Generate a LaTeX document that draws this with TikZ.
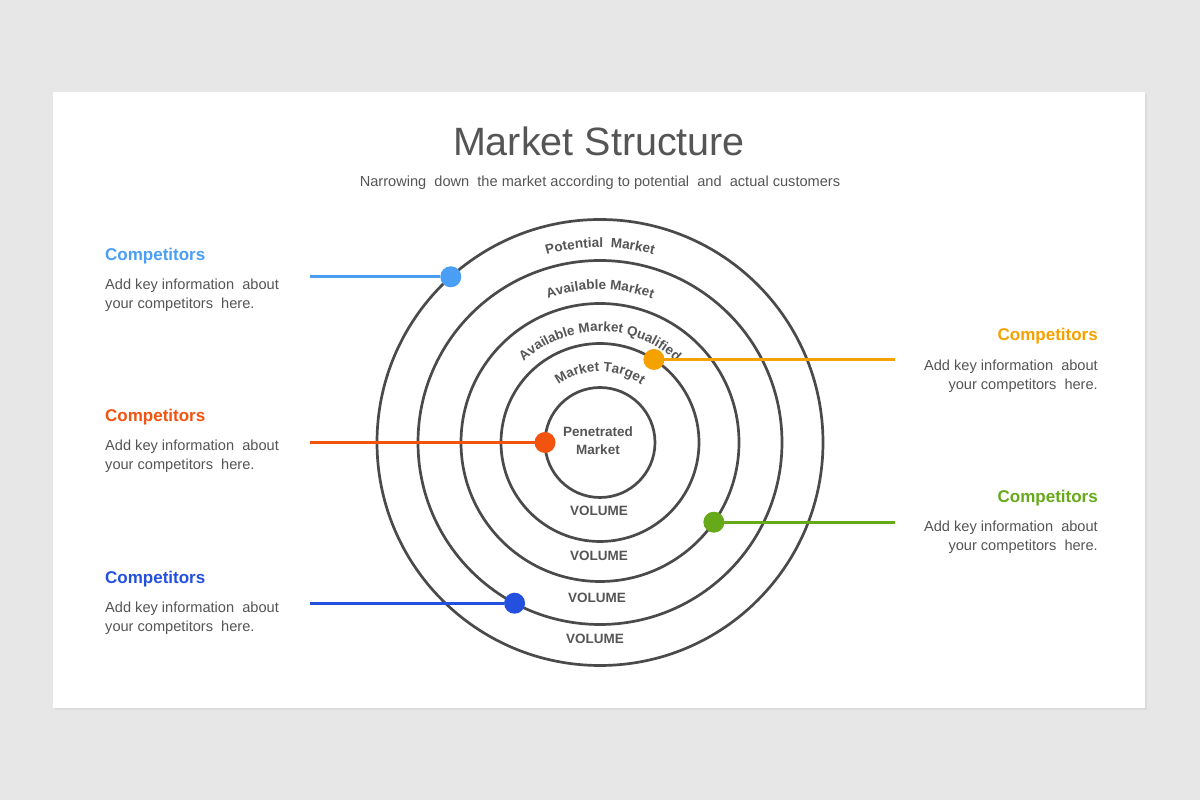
\documentclass[tikz,border=0pt]{standalone}
\usepackage{fontspec}
\setmainfont{Liberation Sans}
\usetikzlibrary{decorations.text,calc}
\definecolor{bg}{HTML}{E8E7E8}
\definecolor{shadowc}{HTML}{DCDBDC}
\definecolor{ink}{HTML}{555555}
\definecolor{ringc}{HTML}{4A4A4A}
\definecolor{cLB}{HTML}{4A9FF5}
\definecolor{cOR}{HTML}{F5A200}
\definecolor{cRD}{HTML}{F2540F}
\definecolor{cGR}{HTML}{66AA1A}
\definecolor{cBL}{HTML}{2450E0}
\newcommand{\curvefont}{\fontsize{13.5}{15}\selectfont\bfseries\color{ink}}
\begin{document}
\begin{tikzpicture}[x=1pt,y=1pt,
 ring/.style={circle, draw=ringc, line width=2.7pt, outer sep=0pt, inner sep=0pt, minimum size=#1},
 dot/.style={circle, fill=#1, minimum size=21pt, inner sep=0pt, outer sep=0pt},
 conn/.style={line width=3pt, draw=#1},
 ttl/.style={font=\fontsize{17}{20}\selectfont\bfseries, text=#1, inner sep=0pt},
 body/.style={font=\fontsize{14.6}{18.5}\selectfont, text=ink, inner sep=0pt},
 vol/.style={font=\fontsize{13.5}{16}\selectfont\bfseries, text=ink, inner sep=0pt},
 curved/.style={decorate, decoration={text along path, text align=center, text={|\curvefont|#1}}},
]
% background and slide
\fill[bg] (0,0) rectangle (1200,800);
\useasboundingbox (0,0) rectangle (1200,800);
\fill[shadowc] (55,90) rectangle (1147,706);
\fill[white] (53,92) rectangle (1145,708);

% title
\node[font=\fontsize{39.5}{46}\selectfont, text=ink, inner sep=0pt] (title) at (599,659) {Market Structure};
\node[font=\fontsize{14.6}{17}\selectfont, text=ink, inner sep=0pt] (sub) at (600,617)
 {Narrowing~ down~ the market according to potential~ and~ actual customers};

% rings
\coordinate (O) at (600,357.5);
\node[ring=446pt] (c1) at (O) {};
\node[ring=364pt] (c2) at (O) {};
\node[ring=278pt] (c3) at (O) {};
\node[ring=198pt] (c4) at (O) {};
\node[ring=110pt] (c5) at (O) {};

% curved labels
\path[curved={Potential~ Market}] ($(O)+(160:195)$) arc[start angle=160, end angle=20, radius=195];
\path[curved={Available Market}] ($(O)+(160:153)$) arc[start angle=160, end angle=20, radius=153];
\path[curved={Available Market Qualified}] ($(O)+(170:111)$) arc[start angle=170, end angle=10, radius=111];
\path[curved={Market Target}] ($(O)+(165:71)$) arc[start angle=165, end angle=15, radius=71];

% inner labels
\node[vol, align=center, font=\fontsize{13.5}{18}\selectfont\bfseries] (pen) at (598,359) {Penetrated\\Market};
\node[vol] (v1) at (599,289) {VOLUME};
\node[vol] (v2) at (599,244) {VOLUME};
\node[vol] (v3) at (597,202) {VOLUME};
\node[vol] (v4) at (595,161) {VOLUME};

% connector ends
\coordinate (lL) at (310,0);
\coordinate (lR) at (895,0);

% dots
\node[dot=cLB] (d1) at (c1.132.4) {};
\node[dot=cOR] (d2) at (c4.57.5) {};
\node[dot=cRD] (d3) at (c5.180) {};
\node[dot=cGR] (d4) at (c3.-35.7) {};
\node[dot=cBL] (d5) at (c2.242.7) {};

% connectors
\draw[conn=cLB] (d1.west) -- (d1 -| lL);
\draw[conn=cOR] (d2.east) -- (d2 -| lR);
\draw[conn=cRD] (d3.west) -- (d3 -| lL);
\draw[conn=cGR] (d4.east) -- (d4 -| lR);
\draw[conn=cBL] (d5.west) -- (d5 -| lL);

% left texts
\node[ttl=cLB, anchor=west] (t1) at (105,544) {Competitors};
\node[body, anchor=west, align=left] (b1) at (105,505) {Add key information~ about\\your competitors~ here.};
\node[ttl=cRD, anchor=west] (t3) at (105,383) {Competitors};
\node[body, anchor=west, align=left] (b3) at (105,344) {Add key information~ about\\your competitors~ here.};
\node[ttl=cBL, anchor=west] (t5) at (105,221) {Competitors};
\node[body, anchor=west, align=left] (b5) at (105,182) {Add key information~ about\\your competitors~ here.};

% right texts
\node[ttl=cOR, anchor=east] (t2) at (1098,464) {Competitors};
\node[body, anchor=east, align=right] (b2) at (1098,424) {Add key information~ about\\your competitors~ here.};
\node[ttl=cGR, anchor=east] (t4) at (1098,302) {Competitors};
\node[body, anchor=east, align=right] (b4) at (1098,263) {Add key information~ about\\your competitors~ here.};
\end{tikzpicture}
\end{document}
